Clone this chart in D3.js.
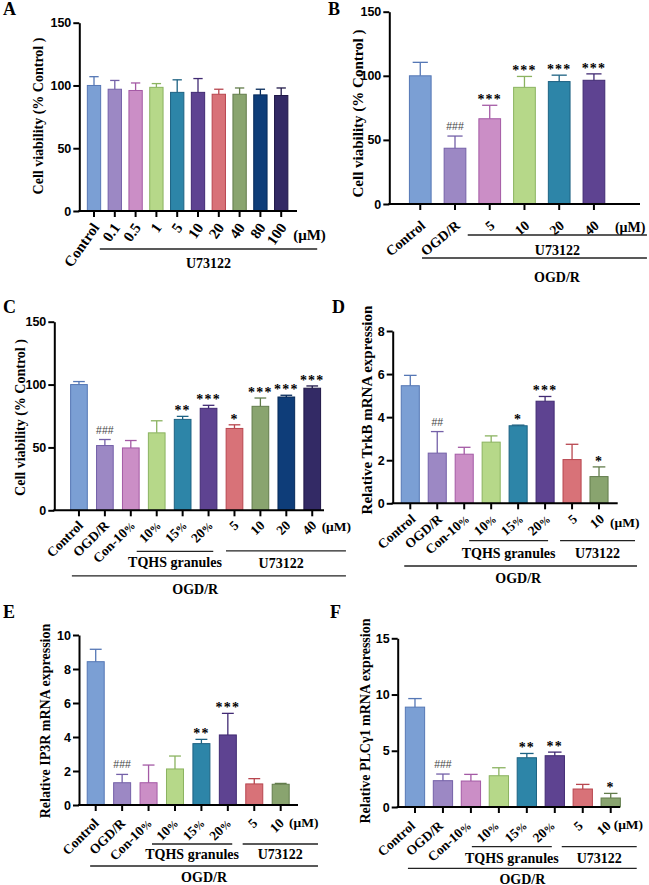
<!DOCTYPE html>
<html>
<head>
<meta charset="utf-8">
<script src="https://cdn.jsdelivr.net/npm/d3@7"></script>
<style>
  body { margin: 0; background: #fff; }
  svg { display: block; }
  .serif { font-family: "Liberation Serif", "Times New Roman", serif; font-weight: bold; }
  .sans { font-family: "Liberation Sans", Arial, sans-serif; font-weight: bold; }
</style>
</head>
<body>
<svg id="fig" width="649" height="885"></svg>
<script>
// bar colours, same order in every panel
const fills = ["#7b9fd4", "#9c88c4", "#cb8ec6", "#b6d889", "#2d85a8", "#5e4391", "#d87278", "#89a46f", "#0e3d79", "#332a65"];
const edges = ["#5577b5", "#7460a8", "#a45aa5", "#8bb360", "#1d6283", "#412a73", "#b8464f", "#627c4b", "#062a5a", "#201848"];

// A: U73122 dose alone
const aCats = ["Control", "0.1", "0.5", "1", "5", "10", "20", "40", "80", "100"];
const aVals = [100, 97, 96, 98.5, 94.5, 94.5, 93, 93, 92.5, 92];
const aErrs = [7, 7, 6, 3, 10, 11, 4, 5, 4.5, 6];
const aMarks = ["", "", "", "", "", "", "", "", "", ""];
const viabTicks = [0, 50, 100, 150];

// B: U73122 after OGD/R
const bCats = ["Control", "OGD/R", "5", "10", "20", "40"];
const bVals = [100, 43.5, 66.5, 91, 95.5, 96.5];
const bErrs = [10.5, 9.5, 10.5, 8.5, 5, 5];
const bMarks = ["", "###", "***", "***", "***", "***"];

// C: TQHS granules vs U73122
const cCats = ["Control", "OGD/R", "Con-10%", "10%", "15%", "20%", "5", "10", "20", "40"];
const cVals = [100, 51.5, 49.6, 61.6, 72.3, 81.1, 65.1, 82.7, 90.1, 97.1];
const cErrs = [2.4, 4.8, 5.9, 9.6, 2.4, 2.4, 2.9, 6.6, 1.4, 1.8];
const cMarks = ["", "###", "", "", "**", "***", "*", "***", "***", "***"];

// D-F: mRNA expression
const geneCats = ["Control", "OGD/R", "Con-10%", "10%", "15%", "20%", "5", "10"];
const dVals = [5.46, 2.33, 2.28, 2.84, 3.6, 4.74, 2.03, 1.24];
const dErrs = [0.48, 1.0, 0.32, 0.29, 0.03, 0.22, 0.71, 0.45];
const dMarks = ["", "##", "", "", "*", "***", "", "*"];
const dTicks = [0, 2, 4, 6, 8];

const eVals = [8.43, 1.31, 1.31, 2.12, 3.61, 4.12, 1.24, 1.22];
const eErrs = [0.73, 0.49, 1.04, 0.76, 0.25, 1.27, 0.31, 0.05];
const eMarks = ["", "###", "", "", "**", "***", "", ""];
const eTicks = [0, 2, 4, 6, 8, 10];

const fVals = [8.88, 2.34, 2.31, 2.78, 4.38, 4.56, 1.6, 0.8];
const fErrs = [0.76, 0.59, 0.59, 0.71, 0.38, 0.32, 0.41, 0.41];
const fMarks = ["", "###", "", "", "**", "**", "", "*"];
const fTicks = [0, 5, 10, 15];

const panels = [
  { tag: "A", tagX: 3, tagY: 15, cats: aCats, vals: aVals, errs: aErrs, marks: aMarks, ticks: viabTicks,
    ax: 79.3, top: 22.7, base: 211, xEnd: 297, band: [83.6, 291.6], pad: 0.36, tfs: 15, lab: [6, 16.5], rot: 55,
    ylabel: "Cell viability (% Control )", lx: 38, ly: 116, lfs: 14, unitDx: 12, unitDy: 29,
    groups: [{ text: "U73122", from: 1, to: 9, x0: -15, x1: 36, dy: 38, tdy: 57, f: 0.5 }] },
  { tag: "B", tagX: 328, tagY: 15, cats: bCats, vals: bVals, errs: bErrs, marks: bMarks, ticks: viabTicks,
    ax: 389.3, top: 11.7, base: 204, xEnd: 640, band: [402.9, 611.3], pad: 0.375, tfs: 14, lab: [6, 23], rot: 40,
    ylabel: "Cell viability (% Control )", lx: 358, ly: 113.5, lfs: 15, unitDx: 21, unitDy: 28,
    groups: [{ text: "U73122", from: 2, to: 5, x0: -22, x1: 53, dy: 31, tdy: 51, f: 0.5 },
             { text: "OGD/R", from: 1, to: 5, x0: -33, x1: 53, dy: 54, tdy: 78, f: 0.6 }] },
  { tag: "C", tagX: 3, tagY: 313, cats: cCats, vals: cVals, errs: cErrs, marks: cMarks, ticks: viabTicks,
    ax: 54.3, top: 321.7, base: 510.3, xEnd: 324, band: [66, 325.2], pad: 0.356, tfs: 13.5, lab: [5, 16], rot: 45,
    ylabel: "Cell viability (% Control )", lx: 20.5, ly: 417.5, lfs: 14, unitDx: 9.4, unitDy: 21,
    groups: [{ text: "TQHS granules", from: 3, to: 5, x0: -20, x1: 4.7, dy: 41, tdy: 57, f: 0.5 },
             { text: "U73122", from: 6, to: 9, x0: -8.5, x1: 33.7, dy: 40.5, tdy: 58, f: 0.46 },
             { text: "OGD/R", from: 1, to: 9, x0: -33, x1: 33.7, dy: 65.5, tdy: 84, f: 0.45 }] },
  { tag: "D", tagX: 332, tagY: 313, cats: geneCats, vals: dVals, errs: dErrs, marks: dMarks, ticks: dTicks,
    ax: 392.7, top: 331, base: 503.3, xEnd: 617.7, band: [396.8, 612.5], pad: 0.33, tfs: 13.5, lab: [6, 17], rot: 41,
    ylabel: "Relative TrkB mRNA expression", lx: 366.7, ly: 410, lfs: 15, unitDx: 11, unitDy: 24,
    groups: [{ text: "TQHS granules", from: 3, to: 5, x0: -22, x1: 3, dy: 37.4, tdy: 55, f: 0.5 },
             { text: "U73122", from: 6, to: 7, x0: -12, x1: 36, dy: 37.4, tdy: 55, f: 0.5 },
             { text: "OGD/R", from: 1, to: 7, x0: -33, x1: 38, dy: 62.7, tdy: 80, f: 0.49 }] },
  { tag: "E", tagX: 3, tagY: 618, cats: geneCats, vals: eVals, errs: eErrs, marks: eMarks, ticks: eTicks,
    ax: 79, top: 635, base: 805, xEnd: 298, band: [82.5, 293.9], pad: 0.357, tfs: 13.5, lab: [4, 19], rot: 45,
    ylabel: "Relative IP3R mRNA expression", lx: 45, ly: 721, lfs: 14, unitDx: 8.3, unitDy: 22,
    groups: [{ text: "TQHS granules", from: 3, to: 5, x0: -23, x1: 4.4, dy: 39, tdy: 54, f: 0.5 },
             { text: "U73122", from: 6, to: 7, x0: -11.6, x1: 37.3, dy: 39, tdy: 54, f: 0.5 },
             { text: "OGD/R", from: 1, to: 7, x0: -32, x1: 37.3, dy: 61, tdy: 77, f: 0.5 }] },
  { tag: "F", tagX: 330, tagY: 618, cats: geneCats, vals: fVals, errs: fErrs, marks: fMarks, ticks: fTicks,
    ax: 397.7, top: 638.3, base: 807, xEnd: 620, band: [401, 624.7], pad: 0.31, tfs: 13.5, lab: [1, 20], rot: 42,
    ylabel: "Relative PLCγ1 mRNA expression", lx: 365, ly: 721, lfs: 14, unitDx: 3, unitDy: 22,
    groups: [{ text: "TQHS granules", from: 3, to: 5, x0: -27, x1: -3, dy: 39.7, tdy: 56, f: 0.5 },
             { text: "U73122", from: 6, to: 7, x0: -21, x1: 26, dy: 39.7, tdy: 56, f: 0.5 },
             { text: "OGD/R", from: 1, to: 7, x0: -35, x1: 26, dy: 61.3, tdy: 76.5, f: 0.5 }] }
];

const svg = d3.select("#fig");

panels.forEach(p => {
  const g = svg.append("g");
  const x = d3.scaleBand().domain(p.cats.map((c, i) => i)).range(p.band)
    .paddingInner(p.pad).paddingOuter(p.pad / 2);
  const y = d3.scaleLinear().domain([0, d3.max(p.ticks)]).range([p.base, p.top]);
  const bw = x.bandwidth();
  const cx = i => x(i) + bw / 2;

  // panel letter
  g.append("text").attr("class", "serif").attr("x", p.tagX).attr("y", p.tagY)
    .attr("font-size", 18).text(p.tag);

  // bars
  g.selectAll("rect.bar").data(p.vals).join("rect").attr("class", "bar")
    .attr("x", (d, i) => x(i)).attr("width", bw)
    .attr("y", d => y(d)).attr("height", d => p.base - y(d))
    .attr("fill", (d, i) => fills[i]).attr("stroke", (d, i) => edges[i]).attr("stroke-width", 1);

  // error bars (upper only)
  const cap = bw * 0.7;
  const eb = g.selectAll("g.err").data(p.vals).join("g").attr("class", "err")
    .attr("stroke", (d, i) => edges[i]).attr("stroke-width", 1.3);
  eb.append("line").attr("x1", (d, i) => cx(i)).attr("x2", (d, i) => cx(i))
    .attr("y1", d => y(d)).attr("y2", (d, i) => y(d + p.errs[i]));
  eb.append("line").attr("x1", (d, i) => cx(i) - cap / 2).attr("x2", (d, i) => cx(i) + cap / 2)
    .attr("y1", (d, i) => y(d + p.errs[i])).attr("y2", (d, i) => y(d + p.errs[i]));

  // significance marks
  g.selectAll("text.mark").data(p.marks).join("text")
    .attr("class", d => d.startsWith("#") ? "mark sans" : "mark serif")
    .attr("x", (d, i) => cx(i))
    .attr("y", (d, i) => y(p.vals[i] + p.errs[i]) - (d.startsWith("#") ? 6 : 1))
    .attr("text-anchor", "middle")
    .attr("font-size", d => d.startsWith("#") ? 10.5 : 14)
    .style("font-weight", d => d.startsWith("#") ? "normal" : "bold")
    .attr("letter-spacing", d => d.startsWith("#") ? 0 : 1.2)
    .style("fill", d => d.startsWith("#") ? "#444" : "#000")
    .text(d => d);

  // y axis
  const yAx = g.append("g").attr("transform", `translate(${p.ax},0)`)
    .call(d3.axisLeft(y).tickValues(p.ticks).tickSize(6).tickSizeOuter(0).tickPadding(2).tickFormat(d3.format("d")));
  yAx.select(".domain").attr("stroke-width", 2);
  yAx.selectAll(".tick line").attr("stroke-width", 2);
  yAx.selectAll(".tick text").attr("class", "sans").attr("font-size", 12.5).attr("fill", "#000");

  // x axis
  const xAx = g.append("g").attr("transform", `translate(0,${p.base})`)
    .call(d3.axisBottom(x).tickSize(6).tickSizeOuter(0).tickFormat(""));
  xAx.select(".domain").remove();
  xAx.selectAll(".tick line").attr("stroke-width", 2);
  g.append("line").attr("x1", p.ax - 1).attr("x2", p.xEnd).attr("y1", p.base).attr("y2", p.base)
    .attr("stroke", "#000").attr("stroke-width", 2);

  // rotated category labels ("%" drawn a little smaller, as in the figure)
  g.selectAll("text.cat").data(p.cats).join("text").attr("class", "cat serif")
    .attr("text-anchor", "end").attr("font-size", p.tfs)
    .attr("transform", (d, i) => `translate(${cx(i) + p.lab[0]},${p.base + p.lab[1]}) rotate(${-p.rot})`)
    .each(function (d) {
      const parts = d.split("%");
      const t = d3.select(this);
      t.append("tspan").text(parts[0]);
      if (parts.length > 1) t.append("tspan").attr("font-size", p.tfs * 0.8).text("%");
    });

  // unit
  g.append("text").attr("class", "serif").attr("font-size", p.tfs)
    .attr("x", cx(p.cats.length - 1) + p.unitDx).attr("y", p.base + p.unitDy)
    .text("(μM)");

  // group brackets
  p.groups.forEach(gr => {
    const x1 = cx(gr.from) + gr.x0, x2 = cx(gr.to) + gr.x1;
    g.append("line").attr("x1", x1).attr("x2", x2)
      .attr("y1", p.base + gr.dy).attr("y2", p.base + gr.dy)
      .attr("stroke", "#222").attr("stroke-width", 1.3);
    g.append("text").attr("class", "serif").attr("font-size", 14).attr("text-anchor", "middle")
      .attr("x", x1 + (x2 - x1) * gr.f).attr("y", p.base + gr.tdy).text(gr.text);
  });

  // y label
  g.append("text").attr("class", "serif").attr("font-size", p.lfs).attr("text-anchor", "middle")
    .attr("transform", `translate(${p.lx},${p.ly}) rotate(-90)`).attr("dy", "0.35em")
    .text(p.ylabel);
});
</script>
</body>
</html>
